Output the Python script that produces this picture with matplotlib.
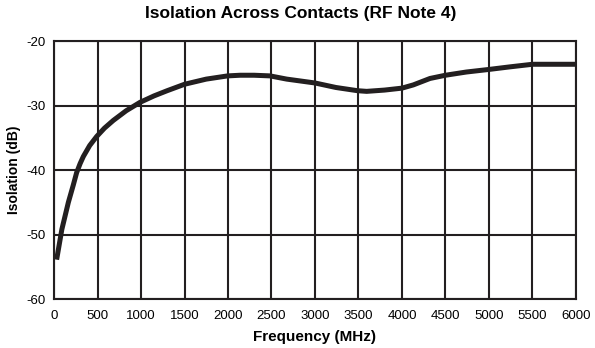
import numpy as np
import matplotlib
matplotlib.use("Agg")
import matplotlib.pyplot as plt

plt.rcParams["font.family"] = ["Liberation Sans", "DejaVu Sans"]

# values
freq_mhz = [30, 90, 165, 222, 260, 300, 337, 410, 490, 580, 682, 830, 989, 1150, 1300,
            1500, 1750, 1996, 2140, 2300, 2483, 2675, 3000, 3241, 3490, 3594,
            3800, 4000, 4130, 4322, 4500, 4740, 5000, 5241, 5500, 5750, 5990]
isolation_db = [-53.9, -49.2, -45.0, -42.3, -40.4, -39.0, -37.9, -36.2, -34.8, -33.5, -32.3,
                -30.8, -29.5, -28.5, -27.7, -26.7, -25.9, -25.4, -25.3, -25.3, -25.4,
                -25.9, -26.5, -27.2, -27.7, -27.8, -27.6, -27.3, -26.8, -25.8, -25.3,
                -24.8, -24.4, -24.0, -23.6, -23.6, -23.6]

x_ticks = list(range(0, 6001, 500))
y_ticks = [-60, -50, -40, -30, -20]

ink = "#231f20"

fig = plt.figure(figsize=(5.95, 3.48), dpi=100)
ax = fig.add_axes([0.0908, 0.1408, 0.8772, 0.7412])

ax.plot(freq_mhz, isolation_db, color=ink, linewidth=3.6,
        solid_capstyle="butt", solid_joinstyle="round", zorder=3)

ax.set_xlim(0, 6000)
ax.set_ylim(-60, -20)
ax.set_xticks(x_ticks)
ax.set_yticks(y_ticks)
ax.set_xticklabels([str(t) for t in x_ticks], fontsize=9.5)
ax.set_yticklabels([str(t) for t in y_ticks], fontsize=9.5)
ax.tick_params(axis="x", length=0, pad=8)
ax.tick_params(axis="y", length=0, pad=6)
ax.grid(True, color=ink, linewidth=1.5)
for s in ax.spines.values():
    s.set_linewidth(1.5)
    s.set_color(ink)

ax.set_xlabel("Frequency (MHz)", fontsize=11, fontweight="bold", labelpad=6)
ax.set_ylabel("Isolation (dB)", fontsize=10, fontweight="bold", labelpad=4)
fig.text(0.505, 0.962, "Isolation Across Contacts (RF Note 4)", fontsize=12.5,
         fontweight="bold", ha="center", va="center")

fig.savefig("out.png", dpi=100)
